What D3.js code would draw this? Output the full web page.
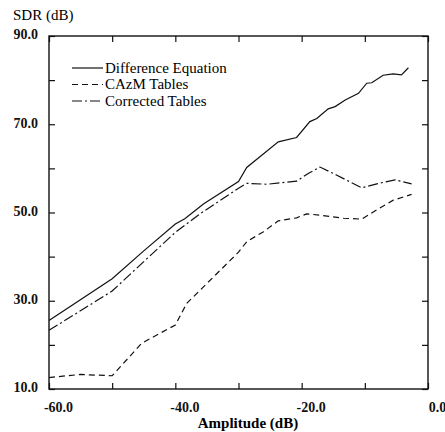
<html>
<head>
<meta charset="utf-8">
<title>SDR vs Amplitude</title>
<script src="https://cdn.jsdelivr.net/npm/d3@7"></script>
</head>
<body style="margin:0; background:#fff">
<div id="chart"></div>
<script>

	// data: [amplitude dB, SDR dB]
	var diff_eq = [[-60,25.5],[-50,35],[-45,41.3],[-40,47.4],[-38.5,48.6],[-35.5,52],[-30,57],
		[-28.7,60.2],[-23.7,66],[-20.8,67],[-18.7,70.6],[-17.6,71.3],[-15.8,73.5],[-14.7,74],
		[-13.1,75.5],[-11,77],[-9.7,79.3],[-8.9,79.4],[-7.1,81.1],[-5.5,81.4],[-4.2,81.2],[-3.1,82.8]];
	var cazm = [[-60,12.6],[-55,13.3],[-50,13],[-45.3,20.4],[-40,24.5],[-38.2,29.4],[-30,41],
		[-28.7,43.4],[-26.1,45.6],[-23.7,48.1],[-20.8,48.8],[-19.2,49.7],[-16.6,49.3],[-13.4,48.7],
		[-10.5,48.5],[-8.1,50.6],[-5.5,52.8],[-2.6,54.1]];
	var corrected = [[-60,23.3],[-50,32.2],[-45.5,38.2],[-40,45.5],[-36,49.8],[-30,55.5],
		[-28.7,56.6],[-25.5,56.4],[-20.8,57.1],[-18.9,58.9],[-17.1,60.3],[-14.5,58.5],
		[-10.5,55.6],[-8.1,56.5],[-5.2,57.4],[-2.6,56.5]];

	var series_names = ["Difference Equation", "CAzM Tables", "Corrected Tables"];
	var series_dash = ["none", "6,4", "10,3,2,3"];
	var x_ticks = [-60, -50, -40, -30, -20, -10, 0];
	var y_ticks = [10, 20, 30, 40, 50, 60, 70, 80, 90];
	var x_labels = {"-60": "-60.0", "-40": "-40.0", "-20": "-20.0", "0": "0.0"};
	var y_labels = {"10": "10.0", "30": "30.0", "50": "50.0", "70": "70.0", "90": "90.0"};

	var FONT = "'Liberation Serif', 'Times New Roman', serif";
	var W = 445, H = 432;
	var left = 49, right = 428, top_ = 36, bottom = 389;

	var svg = d3.select("#chart").append("svg")
		.attr("width", W)
		.attr("height", H);

	var x = d3.scaleLinear().domain([-60, 0]).range([left, right]);
	var y = d3.scaleLinear().domain([10, 90]).range([bottom, top_]);

	// frame
	svg.append("rect")
		.attr("x", left).attr("y", top_)
		.attr("width", right - left).attr("height", bottom - top_)
		.attr("fill", "none").attr("stroke", "#111").attr("stroke-width", 1.4);

	// bottom axis
	var gx = svg.append("g")
		.attr("transform", "translate(0," + bottom + ")")
		.call(d3.axisBottom(x).tickValues(x_ticks).tickSizeInner(-6).tickSizeOuter(0)
			.tickPadding(13).tickFormat(function(d) { return x_labels[d] || ""; }));
	gx.select(".domain").remove();
	gx.selectAll("text").attr("dx", 9);

	// top axis ticks
	var gt = svg.append("g")
		.attr("transform", "translate(0," + top_ + ")")
		.call(d3.axisTop(x).tickValues(x_ticks).tickSizeInner(-6).tickSizeOuter(0).tickFormat(""));
	gt.select(".domain").remove();

	// left axis
	var gy = svg.append("g")
		.attr("transform", "translate(" + left + ",0)")
		.call(d3.axisLeft(y).tickValues(y_ticks).tickSizeInner(-6).tickSizeOuter(0)
			.tickPadding(11).tickFormat(function(d) { return y_labels[d] || ""; }));
	gy.select(".domain").remove();
	gy.selectAll("text").attr("dy", "0.2em");

	// right axis ticks
	var gr = svg.append("g")
		.attr("transform", "translate(" + right + ",0)")
		.call(d3.axisRight(y).tickValues(y_ticks).tickSizeInner(-6).tickSizeOuter(0).tickFormat(""));
	gr.select(".domain").remove();

	svg.selectAll(".tick line").attr("stroke", "#111").attr("stroke-width", 1.2);
	svg.selectAll(".tick text")
		.style("font-family", FONT)
		.style("font-size", "14px")
		.style("font-weight", "bold")
		.attr("fill", "#111");

	// axis titles
	svg.append("text")
		.attr("x", 13).attr("y", 20)
		.style("font-family", FONT)
		.style("font-size", "15px")
		.text("SDR (dB)");

	svg.append("text")
		.attr("x", 248).attr("y", 428)
		.style("font-family", FONT)
		.style("font-size", "15px")
		.style("font-weight", "bold")
		.attr("text-anchor", "middle")
		.text("Amplitude (dB)");

	// curves
	var line = d3.line()
		.x(function(d) { return x(d[0]); })
		.y(function(d) { return y(d[1]); });

	var all_series = [diff_eq, cazm, corrected];
	svg.selectAll(".curve")
		.data(all_series)
		.enter()
		.append("path")
		.attr("class", "curve")
		.attr("d", line)
		.attr("fill", "none")
		.attr("stroke", "#111")
		.attr("stroke-width", 1.2)
		.attr("stroke-dasharray", function(d, i) { return series_dash[i]; });

	// legend
	var legend = svg.append("g").attr("transform", "translate(72,68)");
	series_names.forEach(function(name, i) {
		var row = legend.append("g").attr("transform", "translate(0," + (i * 16.5) + ")");
		row.append("line")
			.attr("x1", 0).attr("x2", 31).attr("y1", 0).attr("y2", 0)
			.attr("stroke", "#111").attr("stroke-width", 1.2)
			.attr("stroke-dasharray", series_dash[i]);
		row.append("text")
			.attr("x", 33).attr("y", 0).attr("dy", "0.32em")
			.style("font-family", FONT)
			.style("font-size", "15px")
			.text(name);
	});

</script>
</body>
</html>
